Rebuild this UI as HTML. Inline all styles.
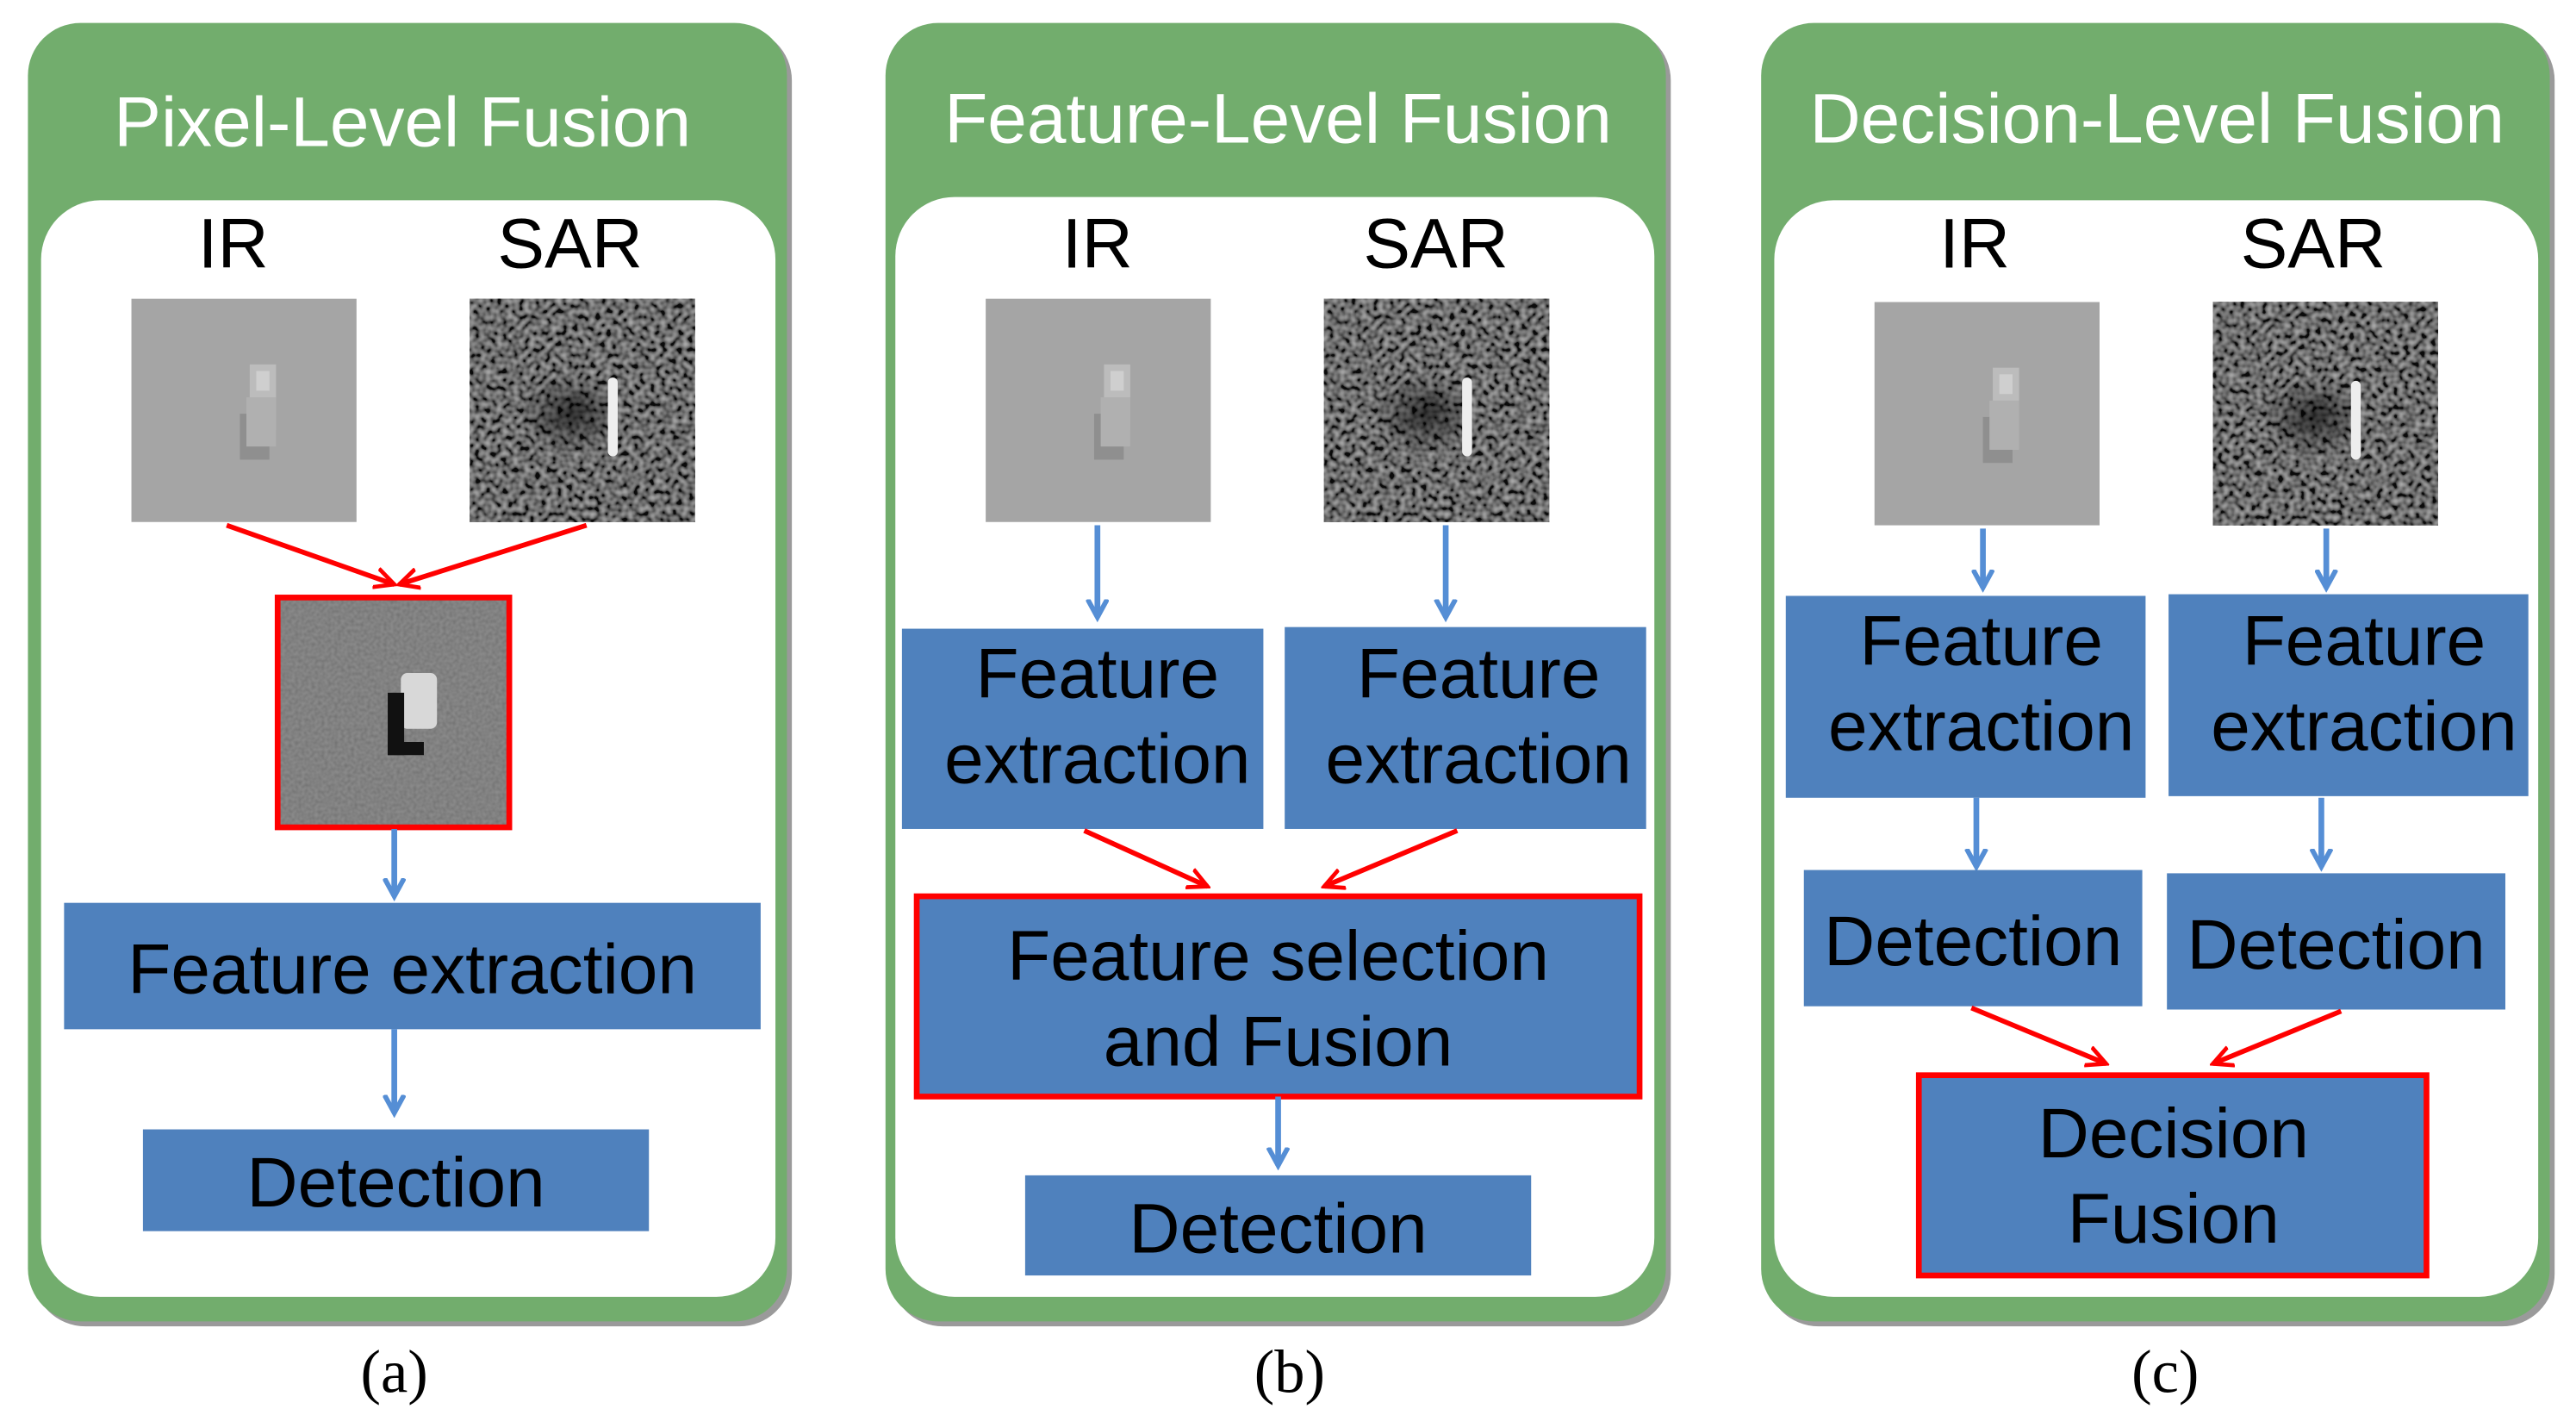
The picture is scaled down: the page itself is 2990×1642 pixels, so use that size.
<!DOCTYPE html>
<html><head><meta charset="utf-8"><style>
html,body{margin:0;padding:0;background:#fff;}
svg{display:block;}
text{font-family:"Liberation Sans",sans-serif;}
</style></head><body>
<svg width="2990" height="1642" viewBox="0 0 1568 862" preserveAspectRatio="none" xmlns="http://www.w3.org/2000/svg">
<defs>
<filter id="sar" x="0" y="0" width="100%" height="100%">
<feTurbulence type="fractalNoise" baseFrequency="0.3" numOctaves="1" seed="7" result="t"/>
<feColorMatrix in="t" type="matrix" values="1.1 0 0 0 -0.35  1.1 0 0 0 -0.35  1.1 0 0 0 -0.35  0 0 0 0 1"/>
</filter>
<filter id="fine" x="0" y="0" width="100%" height="100%">
<feTurbulence type="fractalNoise" baseFrequency="0.5" numOctaves="1" seed="2" result="t"/>
<feColorMatrix in="t" type="matrix" values="0.5 0 0 0 0.15  0.5 0 0 0 0.15  0.5 0 0 0 0.15  0 0 0 0 1"/>
</filter>
<radialGradient id="dark" cx="0.5" cy="0.5" r="0.5"><stop offset="0" stop-color="#000" stop-opacity="0.6"/><stop offset="1" stop-color="#000" stop-opacity="0"/></radialGradient>
<marker id="ab" markerWidth="14" markerHeight="14" refX="11" refY="7" orient="auto" markerUnits="userSpaceOnUse" viewBox="0 0 14 14"><path d="M0,1 L11,7 L0,13" fill="none" stroke="#558ed5" stroke-width="3"/></marker>
<marker id="ar" markerWidth="14" markerHeight="14" refX="12" refY="7" orient="auto" markerUnits="userSpaceOnUse" viewBox="0 0 14 14"><path d="M0,1 L12,7 L0,13" fill="none" stroke="#f00" stroke-width="2.5"/></marker>
<g id="ir">
<rect width="137" height="136" fill="#a5a5a5"/>
<rect x="72" y="40" width="16" height="40" fill="#bcbcbc"/>
<rect x="76" y="44" width="8" height="12" fill="#cfcfcf"/>
<rect x="66" y="70" width="18" height="28" fill="#8a8a8a" opacity="0.8"/>
<rect x="70" y="60" width="18" height="30" fill="#b0b0b0"/>
</g>
<g id="sarimg">
<rect width="137" height="136" fill="#333"/>
<rect width="137" height="136" filter="url(#sar)" opacity="0.8"/>
<ellipse cx="62" cy="70" rx="32" ry="24" fill="url(#dark)"/>
<rect x="84" y="48" width="6" height="48" fill="#eee" rx="3"/>
</g>
</defs>

<!-- Panel A -->
<rect x="20" y="17" width="462" height="791" rx="32" fill="#9a9a9a"/>
<rect x="17" y="14" width="462" height="791" rx="32" fill="#72ad6d"/>
<rect x="25" y="122" width="447" height="668" rx="36" fill="#fff"/>
<text x="245" y="89" font-size="43" fill="#fff" text-anchor="middle">Pixel-Level Fusion</text>
<text x="142" y="163" font-size="43" text-anchor="middle">IR</text>
<text x="347" y="163" font-size="43" text-anchor="middle">SAR</text>
<use href="#ir" x="80" y="182"/>
<use href="#sarimg" x="286" y="182"/>
<line x1="138" y1="320" x2="240" y2="356" stroke="#f00" stroke-width="3" marker-end="url(#ar)"/>
<line x1="357" y1="320" x2="243" y2="356" stroke="#f00" stroke-width="3" marker-end="url(#ar)"/>
<rect x="169" y="364" width="141" height="140" fill="#6c6c6c"/>
<rect x="169" y="364" width="141" height="140" filter="url(#fine)" opacity="0.35"/>
<rect x="244" y="410" width="22" height="34" fill="#d8d8d8" rx="4"/>
<rect x="236" y="422" width="10" height="38" fill="#111"/>
<rect x="236" y="452" width="22" height="8" fill="#111"/>
<rect x="169" y="364" width="141" height="140" fill="none" stroke="#f00" stroke-width="3.5"/>
<line x1="240" y1="505" x2="240" y2="546" stroke="#558ed5" stroke-width="3.5" marker-end="url(#ab)"/>
<rect x="39" y="550" width="424" height="77" fill="#4f81bd"/>
<text x="251" y="605" font-size="43" text-anchor="middle">Feature extraction</text>
<line x1="240" y1="627" x2="240" y2="678" stroke="#558ed5" stroke-width="3.5" marker-end="url(#ab)"/>
<rect x="87" y="688" width="308" height="62" fill="#4f81bd"/>
<text x="241" y="735" font-size="43" text-anchor="middle">Detection</text>
<text x="240" y="848" font-size="37" style="font-family:'Liberation Serif',serif" text-anchor="middle">(a)</text>

<!-- Panel B -->
<rect x="542" y="17" width="475" height="791" rx="32" fill="#9a9a9a"/>
<rect x="539" y="14" width="475" height="791" rx="32" fill="#72ad6d"/>
<rect x="545" y="120" width="462" height="670" rx="36" fill="#fff"/>
<text x="778" y="87" font-size="43" fill="#fff" text-anchor="middle">Feature-Level Fusion</text>
<text x="668" y="163" font-size="43" text-anchor="middle">IR</text>
<text x="874" y="163" font-size="43" text-anchor="middle">SAR</text>
<use href="#ir" x="600" y="182"/>
<use href="#sarimg" x="806" y="182"/>
<line x1="668" y1="320" x2="668" y2="376" stroke="#558ed5" stroke-width="3.5" marker-end="url(#ab)"/>
<line x1="880" y1="320" x2="880" y2="376" stroke="#558ed5" stroke-width="3.5" marker-end="url(#ab)"/>
<rect x="549" y="383" width="220" height="122" fill="#4f81bd"/>
<rect x="782" y="382" width="220" height="123" fill="#4f81bd"/>
<text x="668" y="425" font-size="43" text-anchor="middle">Feature</text>
<text x="668" y="477" font-size="43" text-anchor="middle">extraction</text>
<text x="900" y="425" font-size="43" text-anchor="middle">Feature</text>
<text x="900" y="477" font-size="43" text-anchor="middle">extraction</text>
<line x1="660" y1="506" x2="735" y2="540" stroke="#f00" stroke-width="3" marker-end="url(#ar)"/>
<line x1="887" y1="506" x2="806" y2="540" stroke="#f00" stroke-width="3" marker-end="url(#ar)"/>
<rect x="558" y="546" width="440" height="122" fill="#4f81bd" stroke="#f00" stroke-width="3.5"/>
<text x="778" y="597" font-size="43" text-anchor="middle">Feature selection</text>
<text x="778" y="649" font-size="43" text-anchor="middle">and Fusion</text>
<line x1="778" y1="668" x2="778" y2="710" stroke="#558ed5" stroke-width="3.5" marker-end="url(#ab)"/>
<rect x="624" y="716" width="308" height="61" fill="#4f81bd"/>
<text x="778" y="763" font-size="43" text-anchor="middle">Detection</text>
<text x="785" y="848" font-size="37" style="font-family:'Liberation Serif',serif" text-anchor="middle">(b)</text>

<!-- Panel C -->
<rect x="1075" y="17" width="480" height="791" rx="32" fill="#9a9a9a"/>
<rect x="1072" y="14" width="480" height="791" rx="32" fill="#72ad6d"/>
<rect x="1080" y="122" width="465" height="668" rx="36" fill="#fff"/>
<text x="1313" y="87" font-size="43" fill="#fff" text-anchor="middle">Decision-Level Fusion</text>
<text x="1202" y="163" font-size="43" text-anchor="middle">IR</text>
<text x="1408" y="163" font-size="43" text-anchor="middle">SAR</text>
<use href="#ir" x="1141" y="184"/>
<use href="#sarimg" x="1347" y="184"/>
<line x1="1207" y1="322" x2="1207" y2="358" stroke="#558ed5" stroke-width="3.5" marker-end="url(#ab)"/>
<line x1="1416" y1="322" x2="1416" y2="358" stroke="#558ed5" stroke-width="3.5" marker-end="url(#ab)"/>
<rect x="1087" y="363" width="219" height="123" fill="#4f81bd"/>
<rect x="1320" y="362" width="219" height="123" fill="#4f81bd"/>
<text x="1206" y="405" font-size="43" text-anchor="middle">Feature</text>
<text x="1206" y="457" font-size="43" text-anchor="middle">extraction</text>
<text x="1439" y="405" font-size="43" text-anchor="middle">Feature</text>
<text x="1439" y="457" font-size="43" text-anchor="middle">extraction</text>
<line x1="1203" y1="486" x2="1203" y2="528" stroke="#558ed5" stroke-width="3.5" marker-end="url(#ab)"/>
<line x1="1413" y1="486" x2="1413" y2="528" stroke="#558ed5" stroke-width="3.5" marker-end="url(#ab)"/>
<rect x="1098" y="530" width="206" height="83" fill="#4f81bd"/>
<rect x="1319" y="532" width="206" height="83" fill="#4f81bd"/>
<text x="1201" y="588" font-size="43" text-anchor="middle">Detection</text>
<text x="1422" y="590" font-size="43" text-anchor="middle">Detection</text>
<line x1="1200" y1="614" x2="1282" y2="648" stroke="#f00" stroke-width="3" marker-end="url(#ar)"/>
<line x1="1425" y1="616" x2="1347" y2="648" stroke="#f00" stroke-width="3" marker-end="url(#ar)"/>
<rect x="1168" y="655" width="309" height="122" fill="#4f81bd" stroke="#f00" stroke-width="3.5"/>
<text x="1323" y="705" font-size="43" text-anchor="middle">Decision</text>
<text x="1323" y="757" font-size="43" text-anchor="middle">Fusion</text>
<text x="1318" y="848" font-size="37" style="font-family:'Liberation Serif',serif" text-anchor="middle">(c)</text>
</svg>
</body></html>
